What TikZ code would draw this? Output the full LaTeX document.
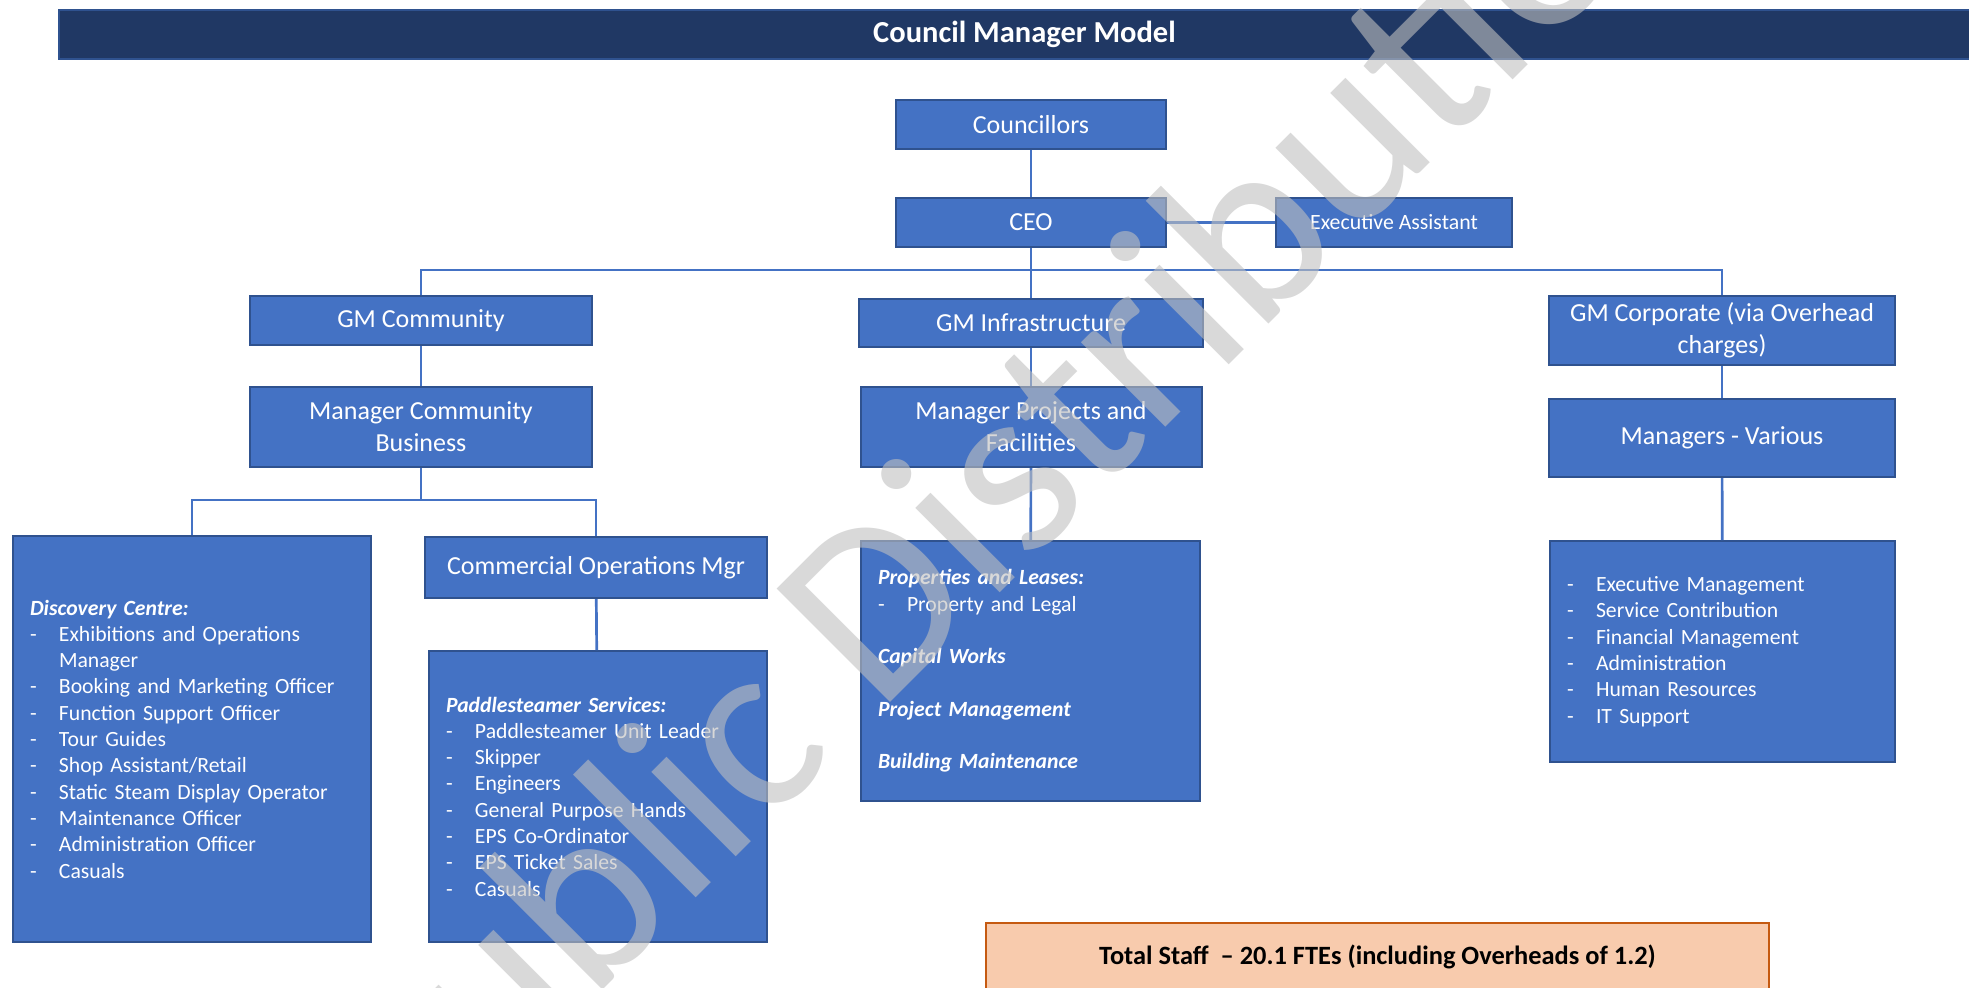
\documentclass[tikz,border=0pt]{standalone}
\usepackage{fontspec}
\setmainfont{Carlito}
\usepackage{tikz}
\usetikzlibrary{positioning}

\definecolor{boxblue}{HTML}{4472C4}
\definecolor{boxedge}{HTML}{2F528F}
\definecolor{barblue}{HTML}{203864}
\definecolor{staffpeach}{HTML}{F8CBAD}
\definecolor{staffedge}{HTML}{C55A11}
\definecolor{markgray}{HTML}{BFBFBF}

\newcommand{\listdash}{\makebox[14.5pt][l]{-}}
\newcommand{\listgap}{\hspace*{14.5pt}}

\begin{document}
\begin{tikzpicture}[x=0.5pt,y=-0.5pt,
  role/.style={draw=boxedge, fill=boxblue, line width=1pt, text=white, align=center,
    inner sep=0pt, font=\fontsize{13}{16}\selectfont},
  duties/.style={draw=boxedge, fill=boxblue, line width=1pt, text=white, align=left,
    inner xsep=8.5pt, inner ysep=0pt, font=\fontsize{10.85}{13.15}\selectfont},
  link/.style={draw=boxblue, line width=1.35pt}]
  \path[use as bounding box, clip] (0,0) rectangle (1969,987);

  % Banner
  \node[fill=barblue, draw=boxedge, line width=1pt, text=white, minimum width=965.5pt,
    minimum height=24.5pt, font=\fontsize{15.25}{18}\selectfont\bfseries] (banner) at (1024.5,34.5) {Council Manager Model};

  % Create nodes
  \node[role, minimum width=135pt, minimum height=24.5pt] (council) at (1031,124.5) {Councillors};
  \node[role, minimum width=135pt, minimum height=24.5pt] (ceo) [below = 23.5pt of council] {CEO};
  \node[role, minimum width=118pt, minimum height=24.5pt, font=\fontsize{10.9}{13}\selectfont] (assist) [right = 54pt of ceo] {Executive Assistant};

  \node[role, minimum width=171pt, minimum height=24.5pt] (gmcom) at (421,320.5) {GM Community};
  \node[role, minimum width=172pt, minimum height=24pt] (gminf) at (1031,323) {GM Infrastructure};
  \node[role, minimum width=173pt, minimum height=34.5pt] (gmcorp) at (1722,330.5) {GM Corporate (via Overhead\\charges)};

  \node[role, minimum width=171pt, minimum height=40pt] (mgrcom) [below = 20pt of gmcom] {Manager Community\\Business};
  \node[role, minimum width=170.5pt, minimum height=40pt] (mgrproj) [below = 19pt of gminf] {Manager Projects and\\Facilities};
  \node[role, minimum width=173pt, minimum height=39pt] (mgrs) [below = 16pt of gmcorp] {Managers - Various};
  \node[role, minimum width=171pt, minimum height=30.5pt] (commops) at (596,567.5) {Commercial Operations Mgr};

  \node[duties, text width=162pt, minimum height=203pt] (discovery) at (192,739) {%
    \textbf{\textit{Discovery Centre:}}\\
    \listdash Exhibitions and Operations\\
    \listgap Manager\\
    \listdash Booking and Marketing Officer\\
    \listdash Function Support Officer\\
    \listdash Tour Guides\\
    \listdash Shop Assistant/Retail\\
    \listdash Static Steam Display Operator\\
    \listdash Maintenance Officer\\
    \listdash Administration Officer\\
    \listdash Casuals};
  \node[duties, text width=152pt, minimum height=145.5pt] (paddle) at (598,796.5) {%
    \textbf{\textit{Paddlesteamer Services:}}\\
    \listdash Paddlesteamer Unit Leader\\
    \listdash Skipper\\
    \listdash Engineers\\
    \listdash General Purpose Hands\\
    \listdash EPS Co-Ordinator\\
    \listdash EPS Ticket Sales\\
    \listdash Casuals};
  \node[duties, text width=152.5pt, minimum height=130pt] (property) at (1030.5,671) {%
    \textbf{\textit{Properties and Leases:}}\\
    \listdash Property and Legal\\[13.15pt]
    \textbf{\textit{Capital Works}}\\[13.15pt]
    \textbf{\textit{Project Management}}\\[13.15pt]
    \textbf{\textit{Building Maintenance}}};
  \node[duties, text width=155.5pt, minimum height=110.5pt] (corplist) at (1722.5,651.5) {%
    \listdash Executive Management\\
    \listdash Service Contribution\\
    \listdash Financial Management\\
    \listdash Administration\\
    \listdash Human Resources\\
    \listdash IT Support};

  \node[draw=staffedge, fill=staffpeach, line width=1pt, minimum width=391.5pt, minimum height=34pt,
    font=\fontsize{13.2}{16}\selectfont\bfseries] (staff) at (1377.5,957) {Total Staff~~– 20.1 FTEs (including Overheads of 1.2)};

  % Reporting lines
  \coordinate (bus) at (1031,270);
  \coordinate (split) at (421,500);
  \path (council) edge[link] (ceo);
  \path (ceo) edge[link] (assist);
  \path (ceo) edge[link] (gminf);
  \draw[link] (gmcom.north) |- (bus) -| (gmcorp.north);
  \path (gmcom) edge[link] (mgrcom);
  \draw[link] (mgrcom.south) -- (split);
  \draw[link] (discovery.north) |- (split) -| (commops.north);
  \path (commops) edge[link] (paddle);
  \path (gminf) edge[link] (mgrproj);
  \path (mgrproj) edge[link] (property);
  \path (gmcorp) edge[link] (mgrs);
  \path (mgrs) edge[link] (corplist);

  % Watermark
  \node[rotate=45, anchor=base, text=markgray, text opacity=0.6,
    font=\fontsize{125}{150}\selectfont] (mark) at (1066.6,526.4) {Public Distribution};
\end{tikzpicture}
\end{document}
